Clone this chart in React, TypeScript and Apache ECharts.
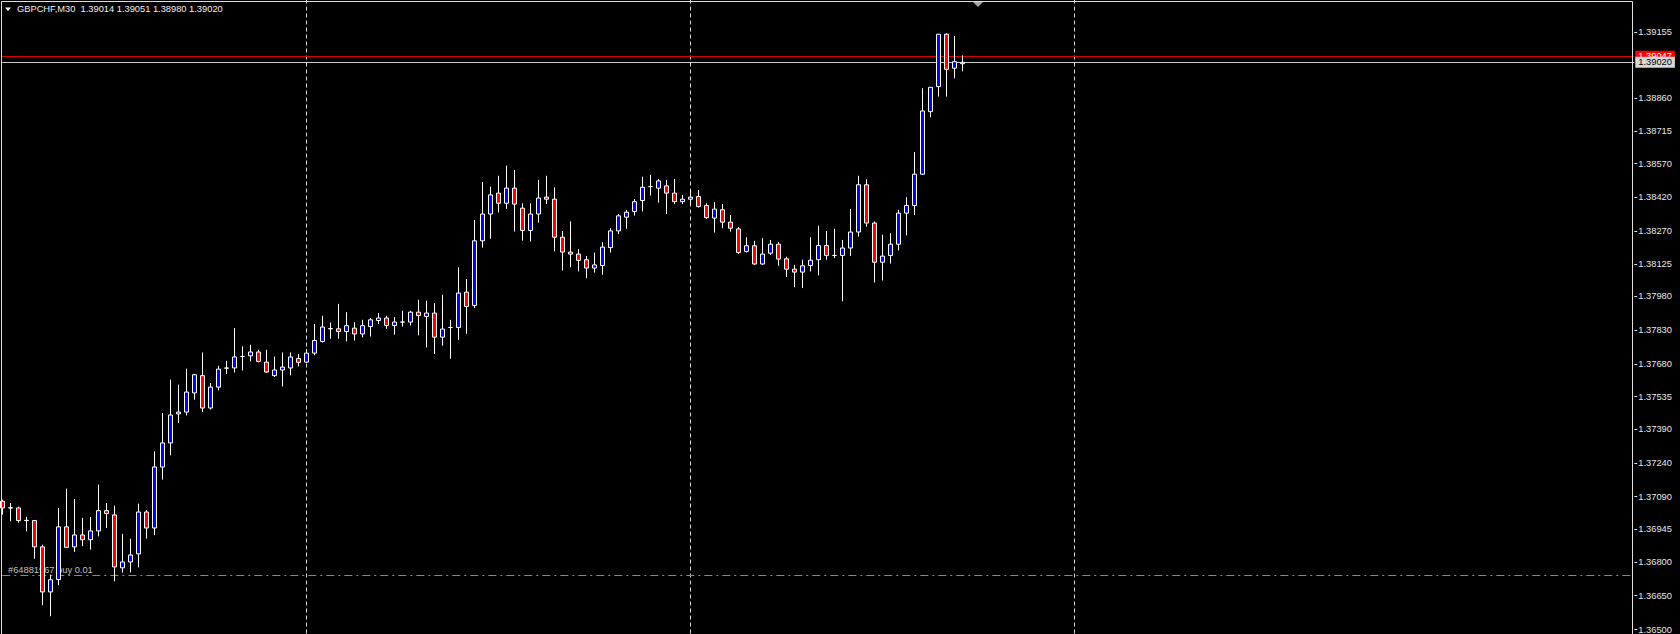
import React, { useEffect, useRef } from "react";
import * as echarts from "echarts";

const SYMBOL = "GBPCHF,M30";

// OHLC of the M30 candles, oldest first
const OPEN = [
  1.3707, 1.37041, 1.3704, 1.36984, 1.36984, 1.36867, 1.36667, 1.36722, 1.36956, 1.36867,
  1.3692, 1.36899, 1.36938, 1.37028, 1.37009, 1.36774, 1.368, 1.36836, 1.37022, 1.36951,
  1.37222, 1.37329, 1.37458, 1.37466, 1.37551, 1.37628, 1.37484, 1.37577, 1.37661, 1.37662,
  1.37713, 1.37716, 1.37733, 1.37688, 1.37628, 1.37653, 1.37662, 1.37704, 1.37688, 1.37728,
  1.3778, 1.37837, 1.37836, 1.37824, 1.37839, 1.37813, 1.37846, 1.37873, 1.37884, 1.37851,
  1.37866, 1.37866, 1.3791, 1.37891, 1.37906, 1.37799, 1.37842, 1.37842, 1.37999, 1.3794,
  1.38227, 1.38346, 1.38439, 1.38394, 1.38461, 1.38372, 1.38273, 1.38346, 1.38421, 1.38412,
  1.38243, 1.38177, 1.38168, 1.38143, 1.38106, 1.38117, 1.38197, 1.38271, 1.38332, 1.38357,
  1.38406, 1.38468, 1.38461, 1.38471, 1.38439, 1.38401, 1.38412, 1.38424, 1.38384, 1.38328,
  1.38365, 1.3831, 1.3828, 1.3818, 1.38205, 1.38124, 1.38172, 1.38212, 1.38147, 1.38101,
  1.38088, 1.38117, 1.38143, 1.38206, 1.38162, 1.38162, 1.38195, 1.38266, 1.38476, 1.38306,
  1.38132, 1.38162, 1.38212, 1.3835, 1.38384, 1.38523, 1.38801, 1.38912, 1.39145, 1.38994,
  1.39014,
];
const HIGH = [
  1.37077, 1.37062, 1.37046, 1.37, 1.36987, 1.36877, 1.36744, 1.3704, 1.37126, 1.3708,
  1.36996, 1.37, 1.37144, 1.37062, 1.3705, 1.36925, 1.36903, 1.37059, 1.3703, 1.37292,
  1.37462, 1.3761, 1.37588, 1.37659, 1.37636, 1.37731, 1.37595, 1.37672, 1.37694, 1.37839,
  1.37758, 1.37765, 1.37743, 1.37743, 1.37713, 1.37731, 1.37731, 1.37724, 1.37746, 1.37858,
  1.37894, 1.37864, 1.37947, 1.3791, 1.37866, 1.37876, 1.37884, 1.37906, 1.37894, 1.37888,
  1.37916, 1.37916, 1.37965, 1.37961, 1.3795, 1.37987, 1.37876, 1.3811, 1.38057, 1.3832,
  1.38488, 1.38468, 1.38516, 1.38561, 1.38542, 1.38394, 1.38394, 1.38498, 1.38516, 1.38465,
  1.38271, 1.38313, 1.3819, 1.3816, 1.38175, 1.38221, 1.38283, 1.38346, 1.38365, 1.38413,
  1.38512, 1.3852, 1.38501, 1.38498, 1.38502, 1.38431, 1.38453, 1.38453, 1.38394, 1.38399,
  1.38391, 1.38342, 1.38288, 1.38243, 1.38227, 1.38239, 1.38231, 1.38221, 1.38157, 1.3812,
  1.38143, 1.38243, 1.38294, 1.38271, 1.3828, 1.38231, 1.38368, 1.38516, 1.38501, 1.38313,
  1.38254, 1.38261, 1.38365, 1.38421, 1.38621, 1.38905, 1.38909, 1.39145, 1.39149, 1.39137,
  1.39051,
];
const LOW = [
  1.3701, 1.36981, 1.36974, 1.36936, 1.36814, 1.36608, 1.36559, 1.36697, 1.36863, 1.36845,
  1.3687, 1.36855, 1.36914, 1.36951, 1.36714, 1.36752, 1.36754, 1.36776, 1.36904, 1.36919,
  1.37166, 1.37274, 1.37418, 1.37451, 1.37521, 1.37466, 1.37477, 1.37562, 1.37635, 1.37642,
  1.37651, 1.37691, 1.37687, 1.3764, 1.37622, 1.3758, 1.37629, 1.37669, 1.37684, 1.37718,
  1.37775, 1.37792, 1.37792, 1.3778, 1.37784, 1.37798, 1.37802, 1.37858, 1.37836, 1.3781,
  1.37846, 1.37851, 1.37807, 1.37753, 1.37724, 1.37761, 1.37703, 1.37787, 1.37814, 1.37928,
  1.38197, 1.38236, 1.38353, 1.38369, 1.38268, 1.38228, 1.38224, 1.38308, 1.3839, 1.3818,
  1.38095, 1.3811, 1.38091, 1.38061, 1.38086, 1.38076, 1.38175, 1.38257, 1.3828, 1.38339,
  1.38357, 1.38428, 1.38397, 1.38346, 1.3839, 1.3839, 1.3839, 1.38375, 1.38325, 1.38264,
  1.38283, 1.38268, 1.38169, 1.38175, 1.3812, 1.3812, 1.38165, 1.38116, 1.38066, 1.38021,
  1.38017, 1.38091, 1.38073, 1.38143, 1.3815, 1.37958, 1.3816, 1.38246, 1.3829, 1.38042,
  1.38051, 1.38126, 1.38184, 1.38251, 1.38342, 1.3852, 1.38776, 1.38868, 1.38868, 1.38949,
  1.3898,
];
const CLOSE = [
  1.3704, 1.3704, 1.36984, 1.36985, 1.36867, 1.36667, 1.36721, 1.36956, 1.36865, 1.3692,
  1.36899, 1.36938, 1.37028, 1.37015, 1.36778, 1.368, 1.36831, 1.37022, 1.36951, 1.37222,
  1.37329, 1.37453, 1.37466, 1.37555, 1.37632, 1.37484, 1.37577, 1.37657, 1.37662, 1.37711,
  1.37713, 1.37733, 1.37691, 1.37644, 1.37653, 1.37666, 1.37711, 1.37687, 1.37728, 1.37784,
  1.37844, 1.37836, 1.37824, 1.3785, 1.37813, 1.3785, 1.37876, 1.37884, 1.37851, 1.37866,
  1.37866, 1.3791, 1.37895, 1.37906, 1.37799, 1.37835, 1.37842, 1.37995, 1.37935, 1.38227,
  1.38346, 1.38431, 1.38394, 1.38461, 1.3839, 1.38273, 1.38346, 1.38417, 1.38412, 1.38243,
  1.38177, 1.38168, 1.3814, 1.38106, 1.3812, 1.38199, 1.38271, 1.38338, 1.38354, 1.38401,
  1.38465, 1.38468, 1.38493, 1.38439, 1.38401, 1.38412, 1.38421, 1.38379, 1.3833, 1.38368,
  1.3831, 1.38283, 1.38175, 1.38205, 1.38124, 1.38168, 1.38212, 1.38146, 1.38101, 1.38088,
  1.38116, 1.38141, 1.38206, 1.38162, 1.38162, 1.38195, 1.38266, 1.38476, 1.38306, 1.38132,
  1.38159, 1.38212, 1.3835, 1.38384, 1.38523, 1.38804, 1.38909, 1.39145, 1.38989, 1.39023,
  1.3902,
];

// price scale tick labels shown on the right
const PRICE_TICKS = [
  1.39155, 1.3886, 1.38715, 1.3857, 1.3842, 1.3827, 1.38125, 1.3798, 1.3783, 1.3768,
  1.37535, 1.3739, 1.3724, 1.3709, 1.36945, 1.368, 1.3665, 1.365,
];

const ASK_PRICE = 1.39047;
const ORDER_PRICE = 1.36741;
const ORDER_LABEL = "#64881967 buy 0.01";
const DAY_SEPARATORS = [38, 86, 134];
const SLOT_COUNT = 205;
const Y_MIN = 1.36482;
const Y_MAX = 1.39297;

const FONT = "'Liberation Sans', Arial, sans-serif";

export default function App() {
  const ref = useRef<HTMLDivElement>(null);

  useEffect(() => {
    document.body.style.margin = "0";
    document.body.style.background = "#000";
    const el = ref.current;
    if (!el) return;
    const chart = echarts.init(el, null, { renderer: "svg" });

    const categories = Array.from({ length: SLOT_COUNT }, (_, i) => String(i));
    const candles = OPEN.map((o, i) => [o, CLOSE[i], LOW[i], HIGH[i]]);
    const last = OPEN.length - 1;
    const bid = CLOSE[last];
    const header =
      SYMBOL +
      "\u00a0\u00a0" +
      [OPEN[last], HIGH[last], LOW[last], CLOSE[last]].map((v) => v.toFixed(5)).join(" ");

    const option: any = {
      animation: false,
      backgroundColor: "#000000",
      grid: { left: 2.3, top: 0, width: 1632, height: 634, show: false },
      xAxis: {
        type: "category",
        data: categories,
        boundaryGap: false,
        axisLine: { show: false },
        axisTick: { show: false },
        axisLabel: { show: false },
        splitLine: { show: false },
      },
      yAxis: {
        type: "value",
        position: "right",
        min: Y_MIN,
        max: Y_MAX,
        axisLine: { show: false },
        splitLine: { show: false },
        axisTick: {
          show: true,
          length: 3,
          lineStyle: { color: "#e0e0e0", width: 1 },
          customValues: PRICE_TICKS,
        },
        axisLabel: {
          show: true,
          customValues: PRICE_TICKS,
          margin: 4,
          color: "#e8e8e8",
          fontSize: 9.3,
          fontFamily: FONT,
          formatter: (v: number) => Number(v).toFixed(5),
        },
      },
      series: [
        {
          type: "candlestick",
          data: candles,
          barWidth: 5,
          clip: false,
          z: 3,
          itemStyle: {
            color: "#0000ff",
            color0: "#ff0000",
            borderColor: "#ffffff",
            borderColor0: "#ffffff",
            borderColorDoji: "#ffffff",
            borderWidth: 1,
          },
          markLine: {
            silent: true,
            symbol: ["none", "none"],
            precision: 5,
            z: 1,
            data: [
              ...DAY_SEPARATORS.map((d) => ({
                xAxis: String(d),
                lineStyle: { color: "#d8d8d8", type: [4, 3], width: 1 },
                label: { show: false },
              })),
              {
                yAxis: ORDER_PRICE,
                lineStyle: { color: "#4a9fb5", type: [8, 4, 2, 4], width: 1 },
                label: { show: false },
              },
              {
                yAxis: ASK_PRICE,
                lineStyle: { color: "#e00000", type: "solid", width: 1 },
                label: {
                  show: true,
                  position: "end",
                  distance: 1,
                  formatter: (p: any) => Number(p.value).toFixed(5),
                  backgroundColor: "#ff0000",
                  color: "#ffffff",
                  fontSize: 9.3,
                  fontFamily: FONT,
                  padding: [1, 3, 1, 3],
                },
              },
              {
                yAxis: bid,
                lineStyle: { color: "#c8c8c8", type: "solid", width: 1 },
                label: {
                  show: true,
                  position: "end",
                  distance: 1,
                  formatter: (p: any) => Number(p.value).toFixed(5),
                  backgroundColor: "#d8d8d8",
                  color: "#000000",
                  fontSize: 9.3,
                  fontFamily: FONT,
                  padding: [1, 3, 1, 3],
                },
              },
            ],
          },
        },
      ],
      graphic: [
        {
          type: "polyline",
          z: 10,
          silent: true,
          shape: { points: [[1.5, 634], [1.5, 1.5], [1632.5, 1.5], [1632.5, 634]] },
          style: { stroke: "#e0e0e0", lineWidth: 1, fill: null },
        },
        {
          type: "polygon",
          z: 10,
          silent: true,
          shape: { points: [[973, 2], [983, 2], [978, 7]] },
          style: { fill: "#a8a8a8" },
        },
        {
          type: "polygon",
          z: 10,
          silent: true,
          shape: { points: [[5, 7.5], [11, 7.5], [8, 11]] },
          style: { fill: "#ffffff" },
        },
        {
          type: "text",
          z: 10,
          silent: true,
          x: 17,
          y: 9,
          style: {
            text: header,
            fill: "#f0f0f0",
            font: `9.3px ${FONT}`,
            verticalAlign: "middle",
            align: "left",
          },
        },
        {
          type: "text",
          z: 0,
          silent: true,
          x: 8,
          y: 570,
          style: {
            text: ORDER_LABEL,
            fill: "#c0c0c0",
            font: `9.3px ${FONT}`,
            verticalAlign: "middle",
            align: "left",
          },
        },
      ],
    };

    chart.setOption(option);
    return () => chart.dispose();
  }, []);

  return <div ref={ref} style={{ width: 1680, height: 634, background: "#000" }} />;
}
